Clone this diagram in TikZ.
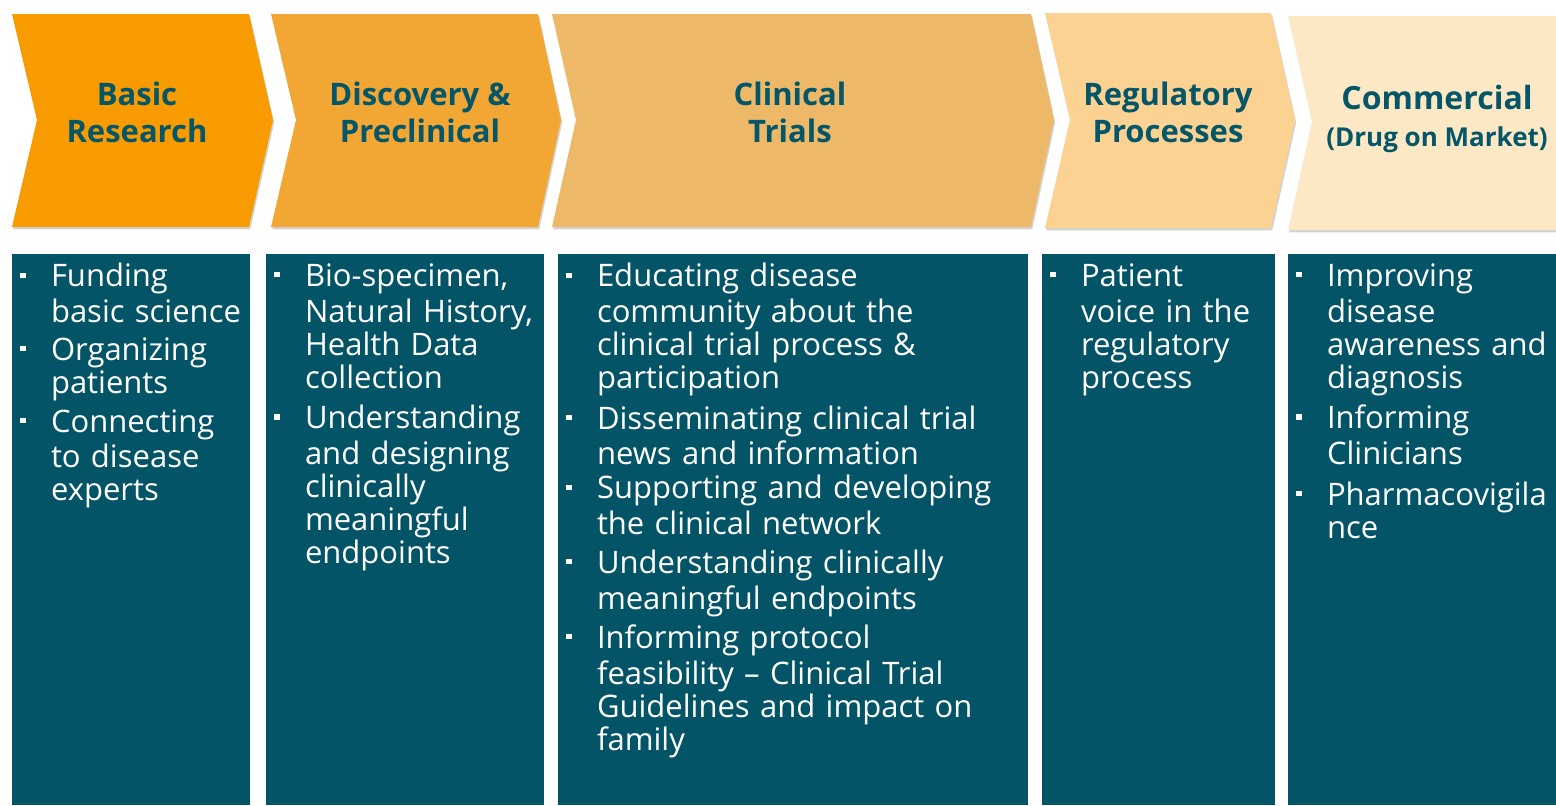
\documentclass[tikz,border=0pt]{standalone}
\usepackage{fontspec}
\setmainfont{Open Sans}
\usetikzlibrary{shadows}

\definecolor{stageA}{RGB}{248,155,0}
\definecolor{stageB}{RGB}{242,166,52}
\definecolor{stageC}{RGB}{237,184,104}
\definecolor{stageD}{RGB}{252,210,146}
\definecolor{stageE}{RGB}{253,232,197}
\definecolor{headtext}{RGB}{4,86,104}
\definecolor{panel}{RGB}{4,84,103}

% one bullet with hanging text, #1 = space after it
\newcommand\stageitem[2][3.5pt]{%
  \noindent\hangindent=15.3pt\hangafter=1
  \makebox[15.3pt][l]{\raisebox{4.6pt}{\rule{2.6pt}{2.6pt}}}\strut#2\par\vspace{#1}}

\begin{document}
\begin{tikzpicture}
  [x=0.5pt,y=-0.5pt,
   chevshadow/.style={drop shadow={shadow xshift=0.6pt,shadow yshift=-1.2pt,opacity=0.25,fill=black!70}},
   headline/.style={text=headtext,align=center,font=\bfseries\fontsize{15.5}{18.5}\selectfont},
   itemlist/.style={anchor=north west,inner xsep=4pt,inner ysep=0pt,text=white,align=left,
     font=\fontsize{15.5}{16.6}\selectfont}]
  \useasboundingbox (0,0) rectangle (1556,805);

  % the five stages
  \fill[stageA,chevshadow] (12,14) -- (249,14) -- (273,120) -- (249,227) -- (12,227) -- (37,120) -- cycle;
  \fill[stageB,chevshadow] (271,14) -- (538,14) -- (561,120) -- (538,227) -- (271,227) -- (296,120) -- cycle;
  \fill[stageC,chevshadow] (552,14) -- (1031,14) -- (1054,120) -- (1031,227) -- (552,227) -- (576,120) -- cycle;
  \fill[stageD,chevshadow] (1045,13) -- (1271,13) -- (1295,120) -- (1271,228) -- (1045,228) -- (1070,120) -- cycle;
  \fill[stageE,chevshadow] (1288,16) -- (1556,16) -- (1556,230) -- (1288,230) -- (1312,122) -- cycle;

  \node[headline] (h1) at (137,112) {Basic\\Research};
  \node[headline] (h2) at (420,112) {Discovery \&\\Preclinical};
  \node[headline] (h3) at (790,112) {Clinical\\Trials};
  \node[headline] (h4) at (1168,112) {Regulatory\\Processes};
  \node[headline] (h5) at (1437,118.5) {{\fontsize{16}{19}\selectfont Commercial}\\{\fontsize{13}{19}\selectfont (Drug on Market)}};

  % panels below
  \fill[panel] (12,254) rectangle (250,805);
  \fill[panel] (266,254) rectangle (544,805);
  \fill[panel] (558,254) rectangle (1028,805);
  \fill[panel] (1042,254) rectangle (1275,805);
  \fill[panel] (1288,254) rectangle (1556,805);

  \node[itemlist,text width=130pt] (l1) at (12,263) {%
    \stageitem[2.5pt]{Funding\newline basic science}
    \stageitem[2.5pt]{Organizing\newline patients}
    \stageitem{Connecting\newline to disease\newline experts}};
  \node[itemlist,text width=150pt] (l2) at (266,263) {%
    \stageitem{Bio-specimen,\newline Natural History,\newline Health Data\newline collection}
    \stageitem{Understanding\newline and designing\newline clinically\newline meaningful\newline endpoints}};
  \node[itemlist,text width=240pt] (l3) at (558,263) {%
    \stageitem{Educating disease\newline community about the\newline clinical trial process \&\newline participation}
    \stageitem[0.5pt]{Disseminating clinical trial\newline news and information}
    \stageitem[3pt]{Supporting and developing\newline the clinical network}
    \stageitem[3pt]{Understanding clinically\newline meaningful endpoints}
    \stageitem{Informing protocol\newline feasibility – Clinical Trial\newline Guidelines and impact on\newline family}};
  \node[itemlist,text width=130pt] (l4) at (1042,263) {%
    \stageitem{Patient\newline voice in the\newline regulatory\newline process}};
  \node[itemlist,text width=150pt] (l5) at (1288,263) {%
    \stageitem{Improving\newline disease\newline awareness and\newline diagnosis}
    \stageitem[4pt]{Informing\newline Clinicians}
    \stageitem{Pharmacovigila\newline nce}};
\end{tikzpicture}
\end{document}
